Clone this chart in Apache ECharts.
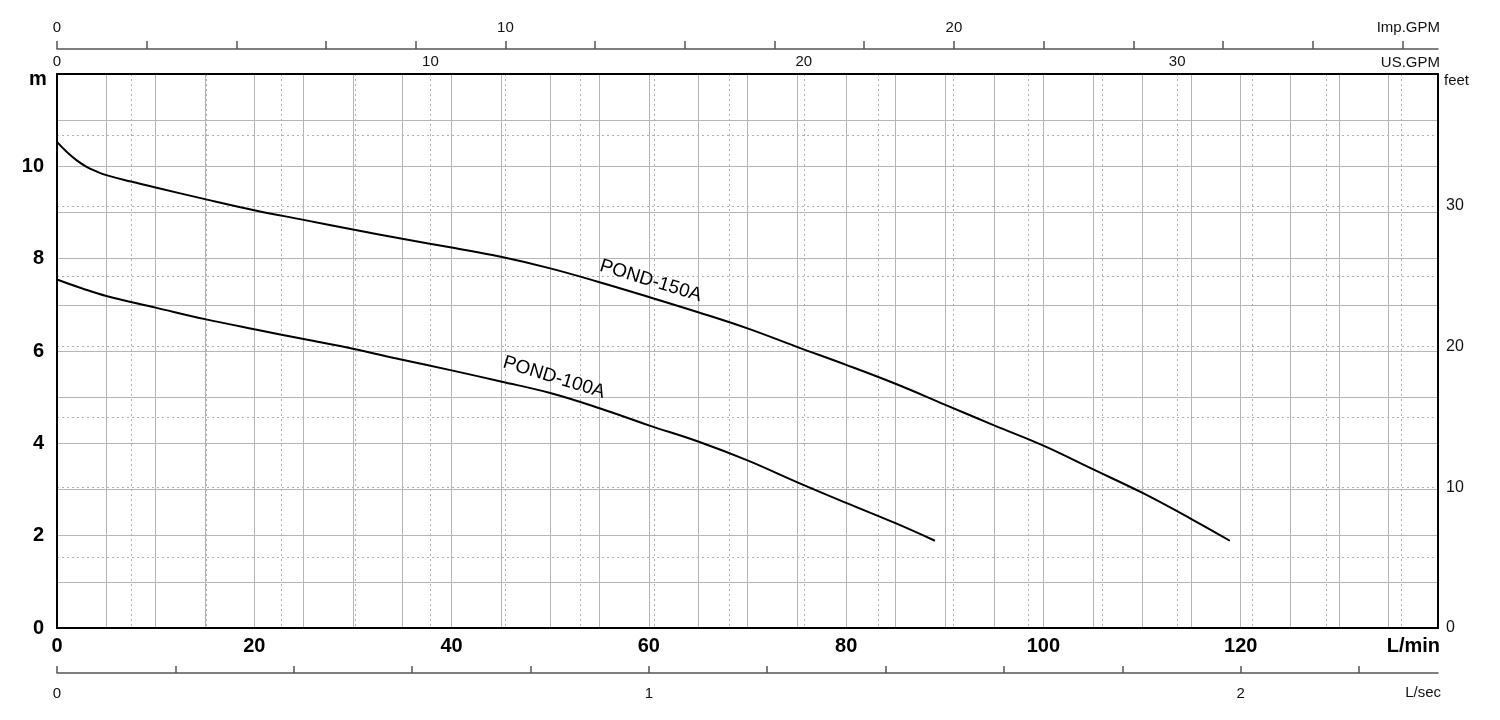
<!DOCTYPE html>
<html>
<head>
<meta charset="utf-8">
<script src="https://cdn.jsdelivr.net/npm/echarts@6/dist/echarts.min.js"></script>
<style>
html,body{margin:0;padding:0;background:#fff;}
#c{width:1500px;height:720px;}
</style>
</head>
<body>
<div id="c"></div>
<script>
// ---- data ----
const flow150 = [0, 1, 2, 3, 4, 5, 7.5, 10, 15, 20, 25, 30, 35, 40, 45, 50, 55, 60, 65, 70, 75, 80, 85, 90, 95, 100, 105, 110, 115, 118.9];
const head150 = [10.53, 10.31, 10.13, 9.99, 9.89, 9.81, 9.67, 9.54, 9.29, 9.05, 8.84, 8.63, 8.43, 8.24, 8.04, 7.79, 7.49, 7.17, 6.84, 6.49, 6.09, 5.70, 5.29, 4.84, 4.39, 3.95, 3.44, 2.93, 2.36, 1.89];
const flow100 = [0, 2.5, 5, 10, 15, 20, 25, 30, 35, 40, 45, 50, 55, 60, 65, 70, 75, 80, 85, 89];
const head100 = [7.55, 7.36, 7.19, 6.94, 6.69, 6.47, 6.26, 6.05, 5.81, 5.58, 5.34, 5.09, 4.76, 4.39, 4.04, 3.63, 3.16, 2.71, 2.27, 1.89];
const seriesNames = ['POND-150A', 'POND-100A'];

const lpmMax = 140;           // L/min
const mMax = 12;              // metres
const US_GAL = 3.78541;       // L per US gallon
const IMP_GAL = 4.54609;      // L per Imp gallon
const FT = 0.3048;            // m per foot

const impTicks = [0, 2, 4, 6, 8, 10, 12, 14, 16, 18, 20, 22, 24, 26, 28, 30];
const impLabels = [0, 10, 20];
const usLabels = [0, 10, 20, 30];
const lsecTicks = [0, 0.2, 0.4, 0.6, 0.8, 1, 1.2, 1.4, 1.6, 1.8, 2, 2.2];
const lsecLabels = [0, 1, 2];
const feetLabels = [0, 10, 20, 30];

const pairs = (xs, ys) => xs.map((x, i) => [x, ys[i]]);

const FONT = 'Arial, "Liberation Sans", Helvetica, sans-serif';
const gridSolid = '#b5b5b5';
const gridDot = '#b0b0b0';
const secAxis = '#555';

const chart = echarts.init(document.getElementById('c'), null, {renderer: 'canvas'});

const option = {
  animation: false,
  backgroundColor: '#fff',
  grid: {left: 57, right: 62, top: 74, bottom: 92, show: true, borderColor: '#000', borderWidth: 2, backgroundColor: 'transparent', z: 3},
  xAxis: [
    { // 0: L/min (bottom)
      type: 'value', position: 'bottom', min: 0, max: lpmMax, interval: 20,
      axisLine: {show: false, onZero: false}, axisTick: {show: false},
      axisLabel: {margin: 8, fontFamily: FONT, fontSize: 20, fontWeight: 'bold', color: '#000',
        formatter: v => (v === lpmMax ? '' : String(v))},
      splitLine: {show: true, lineStyle: {color: gridSolid, width: 1}},
      minorTick: {show: false, splitNumber: 4},
      minorSplitLine: {show: true, lineStyle: {color: gridSolid, width: 1}}
    },
    { // 1: L/sec (bottom, offset)
      type: 'value', position: 'bottom', offset: 45, min: 0, max: lpmMax / 60,
      axisLine: {show: true, onZero: false, lineStyle: {color: secAxis, width: 1.5}},
      axisTick: {show: true, inside: true, length: 7, customValues: lsecTicks, lineStyle: {color: secAxis, width: 1.5}},
      axisLabel: {margin: 13, fontFamily: FONT, fontSize: 15, color: '#111', customValues: lsecLabels},
      splitLine: {show: false}
    },
    { // 2: US GPM (top) -> dotted verticals every 2 US GPM
      type: 'value', position: 'top', min: 0, max: lpmMax / US_GAL, interval: 2,
      axisLine: {show: false, onZero: false}, axisTick: {show: false},
      axisLabel: {margin: 5, fontFamily: FONT, fontSize: 15, color: '#111', customValues: usLabels},
      splitLine: {show: true, lineStyle: {color: gridDot, width: 1, type: [2, 3]}}
    },
    { // 3: Imp GPM (top, offset)
      type: 'value', position: 'top', offset: 25, min: 0, max: lpmMax / IMP_GAL,
      axisLine: {show: true, onZero: false, lineStyle: {color: secAxis, width: 1.5}},
      axisTick: {show: true, length: 8, customValues: impTicks, lineStyle: {color: secAxis, width: 1.5}},
      axisLabel: {margin: 14, fontFamily: FONT, fontSize: 15, color: '#111', customValues: impLabels},
      splitLine: {show: false}
    }
  ],
  yAxis: [
    { // 0: metres (left)
      type: 'value', position: 'left', min: 0, max: mMax, interval: 2,
      axisLine: {show: false, onZero: false}, axisTick: {show: false},
      axisLabel: {margin: 13, fontFamily: FONT, fontSize: 20, fontWeight: 'bold', color: '#000',
        formatter: v => (v === mMax ? '' : String(v))},
      splitLine: {show: true, lineStyle: {color: gridSolid, width: 1}},
      minorTick: {show: false, splitNumber: 2},
      minorSplitLine: {show: true, lineStyle: {color: gridSolid, width: 1}}
    },
    { // 1: feet (right) -> dotted horizontals every 5 ft
      type: 'value', position: 'right', min: 0, max: mMax / FT, interval: 5,
      axisLine: {show: false, onZero: false}, axisTick: {show: false},
      axisLabel: {margin: 8, fontFamily: FONT, fontSize: 16, color: '#111', customValues: feetLabels},
      splitLine: {show: true, lineStyle: {color: gridDot, width: 1, type: [2, 3]}}
    }
  ],
  graphic: [
    {type: 'text', left: 29, top: 69, style: {text: 'm', font: 'bold 20px ' + FONT, fill: '#000'}},
    {type: 'text', right: 1500 - 1440, top: 20, style: {text: 'Imp.GPM', font: '15px ' + FONT, fill: '#111'}},
    {type: 'text', right: 1500 - 1440, top: 55, style: {text: 'US.GPM', font: '15px ' + FONT, fill: '#111'}},
    {type: 'text', left: 1444, top: 73, style: {text: 'feet', font: '15px ' + FONT, fill: '#111'}},
    {type: 'text', right: 1500 - 1440, top: 636, style: {text: 'L/min', font: 'bold 20px ' + FONT, fill: '#000'}},
    {type: 'text', right: 1500 - 1441, top: 685, style: {text: 'L/sec', font: '15px ' + FONT, fill: '#111'}}
  ],
  series: [
    {
      name: seriesNames[0], type: 'line', xAxisIndex: 0, yAxisIndex: 0, smooth: 0.4,
      showSymbol: false, symbol: 'none', z: 5,
      lineStyle: {color: '#000', width: 2},
      data: pairs(flow150, head150),
      markPoint: {
        symbol: 'circle', symbolSize: 0, silent: true,
        label: {show: true, formatter: seriesNames[0], rotate: -17, offset: [-3, -16],
          fontFamily: FONT, fontSize: 19, color: '#000'},
        data: [{coord: [flow150[17], head150[17]]}]
      }
    },
    {
      name: seriesNames[1], type: 'line', xAxisIndex: 0, yAxisIndex: 0, smooth: 0.4,
      showSymbol: false, symbol: 'none', z: 5,
      lineStyle: {color: '#000', width: 2},
      data: pairs(flow100, head100),
      markPoint: {
        symbol: 'circle', symbolSize: 0, silent: true,
        label: {show: true, formatter: seriesNames[1], rotate: -17, offset: [-1, -16],
          fontFamily: FONT, fontSize: 19, color: '#000'},
        data: [{coord: [flow100[11], head100[11]]}]
      }
    }
  ]
};
chart.setOption(option);
</script>
</body>
</html>
